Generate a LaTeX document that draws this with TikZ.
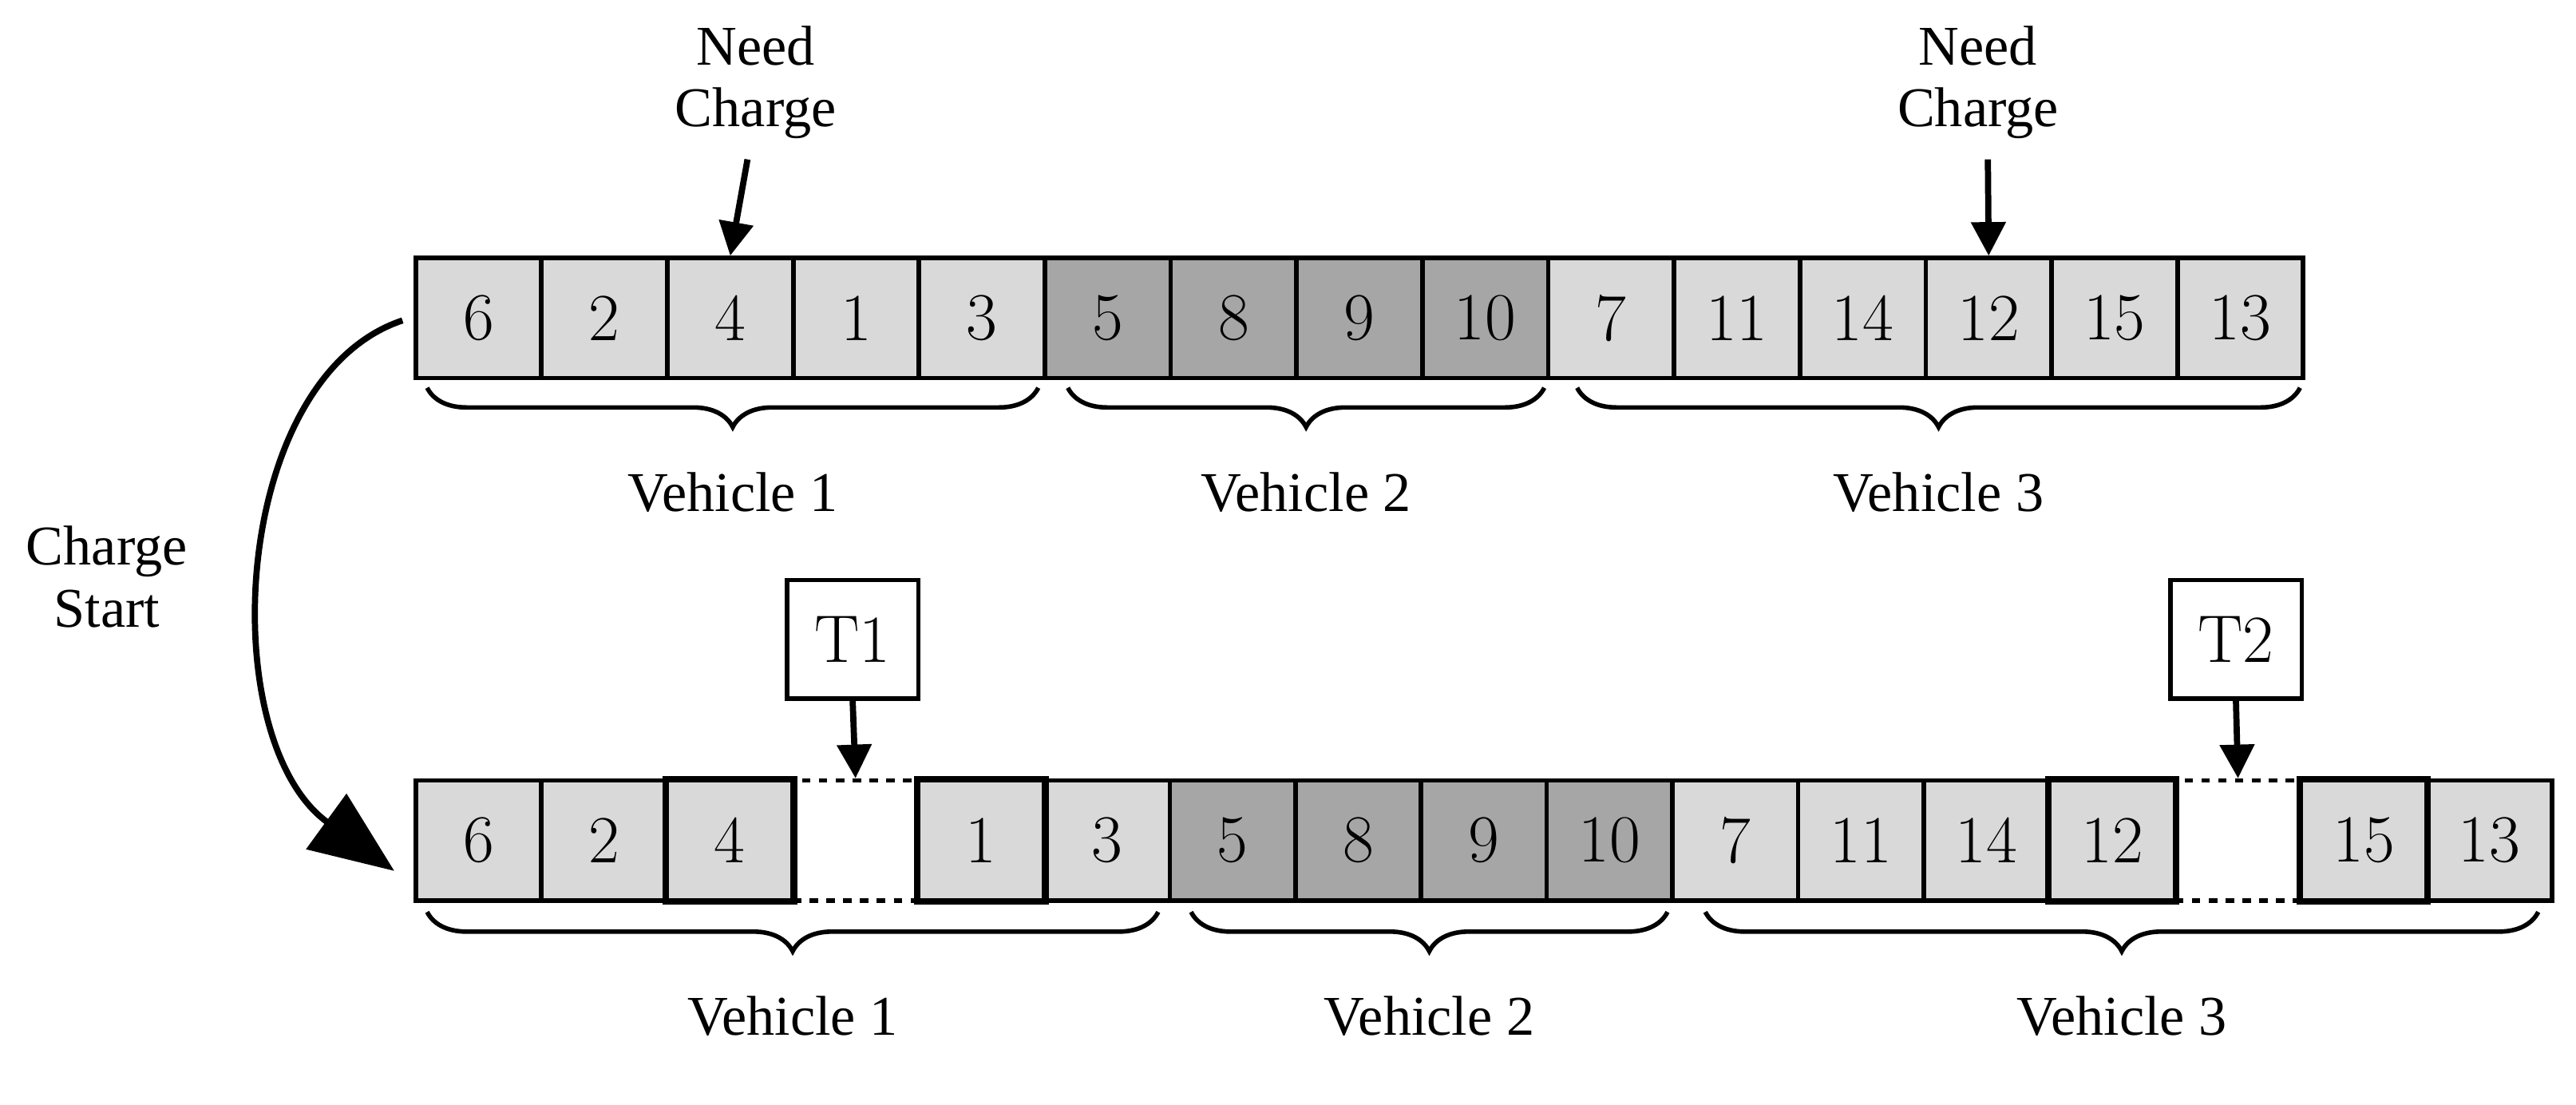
\documentclass[tikz,border=0pt]{standalone}
\usepackage{fontspec}
\setmainfont{Liberation Serif}
\newfontfamily\lm{Latin Modern Roman}
\usetikzlibrary{decorations.pathreplacing,arrows.meta}
\definecolor{lg}{HTML}{D9D9D9}
\definecolor{dg}{HTML}{A6A6A6}
\begin{document}
\begin{tikzpicture}[x=0.02058cm,y=-0.02058cm,
 cell/.style={draw,line width=1.6pt,minimum width=76.5*0.02058cm,minimum height=73*0.02058cm,inner sep=0pt,font=\lm\fontsize{24}{24}\selectfont},
 L/.style={cell,fill=lg},D/.style={cell,fill=dg},
 E/.style={cell,dashed,fill=white},
 br/.style={decorate,decoration={brace,mirror,amplitude=14pt},line width=1.6pt},
 lab/.style={font=\fontsize{20}{22}\selectfont,align=center},
 arr/.style={line width=2.2pt,-{Triangle[length=12pt,width=12pt]}},
 tb/.style={draw,line width=1.6pt,minimum width=80*0.02058cm,minimum height=72*0.02058cm,inner sep=0pt,font=\lm\fontsize{24}{24}\selectfont,fill=white}]
\useasboundingbox (0,0) rectangle (1568,672);
% top row
\foreach \t [count=\i from 0] in {6,2,4,1,3}{\node[L] (a\i) at (253+38.3+76.6*\i,193.5) {\t};}
\foreach \t [count=\i from 5] in {5,8,9,10}{\node[D] (a\i) at (253+38.3+76.6*\i,193.5) {\t};}
\foreach \t [count=\i from 9] in {7,11,14,12,15,13}{\node[L] (a\i) at (253+38.3+76.6*\i,193.5) {\t};}
% bottom row
\foreach \t/\s [count=\i from 0] in {6/L,2/L,4/L,{}/E,1/L,3/L,5/D,8/D,9/D,10/D,7/L,11/L,14/L,12/L,{}/E,15/L,13/L}{\node[\s] (b\i) at (253+38.25+76.5*\i,511.5) {\t};}
% redraw solid neighbours over dashed edges
\foreach \i in {2,4,13,15}{\draw[line width=1.6pt] (b\i.south west) rectangle (b\i.north east);}
% braces
\draw[br] (260,236) -- (632,236) node[midway,below=26pt,lab] (v1) {Vehicle 1};
\draw[br] (650,236) -- (940,236) node[midway,below=26pt,lab] (v2) {Vehicle 2};
\draw[br] (960,236) -- (1400,236) node[midway,below=26pt,lab] (v3) {Vehicle 3};
\draw[br] (260,555) -- (705,555) node[midway,below=26pt,lab] (w1) {Vehicle 1};
\draw[br] (725,555) -- (1015,555) node[midway,below=26pt,lab] (w2) {Vehicle 2};
\draw[br] (1038,555) -- (1545,555) node[midway,below=26pt,lab] (w3) {Vehicle 3};
% need charge
\node[lab] (n1) at (460,50) {Need\\Charge};
\node[lab] (n2) at (1204,50) {Need\\Charge};
\draw[arr] (455,97) -- (a2.north);
\draw[arr] (1210,97) -- (a12.north);
% T boxes
\node[tb] (t1) at (519,389) {T1};
\node[tb] (t2) at (1361,389) {T2};
\draw[arr] (t1.south) -- (b3.north);
\draw[arr] (t2.south) -- (b14.north);
% curved arrow
\coordinate (c0) at (245,195);
\coordinate (c1) at (240,530);
\draw[line width=2.2pt,-{Triangle[length=30pt,width=24pt]}] (c0) .. controls (140,230) and (130,450) .. (c1);
\node[lab] (cs) at (65,351) {Charge\\Start};
\end{tikzpicture}
\end{document}
